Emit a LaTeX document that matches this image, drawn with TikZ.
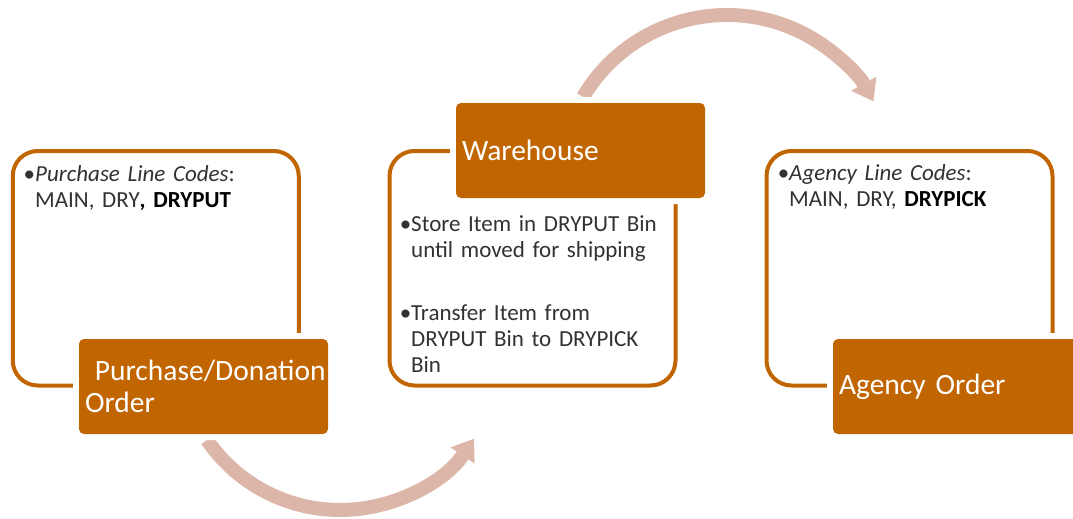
\documentclass[tikz,border=0pt]{standalone}
\usepackage{fontspec}
\setmainfont{Carlito}
\usetikzlibrary{arrows.meta}

\definecolor{rustorange}{RGB}{193,101,0}
\definecolor{flowpink}{RGB}{220,182,168}
\definecolor{bodygray}{RGB}{50,50,50}

\tikzset{
  codebox/.style={draw=rustorange, line width=4pt, rounded corners=25pt, fill=white,
    minimum width=286pt, minimum height=234.5pt, inner sep=0pt},
  stagebox/.style={fill=rustorange, text=white, rounded corners=5pt,
    preaction={draw=white, line width=12pt},
    minimum width=249pt, minimum height=95pt, text width=237pt, inner xsep=6pt,
    align=left, font=\fontsize{29.5}{32}\selectfont},
  notetext/.style={anchor=base west, text width=270pt, inner sep=0pt, align=left,
    text=bodygray, font=\fontsize{23}{26}\selectfont},
  flowarrow/.style={draw=flowpink, line width=14pt,
    -{Triangle[width=29pt, length=20pt, line width=0pt]}}
}

\begin{document}
\begin{tikzpicture}[x=1pt, y=-1pt]
  \useasboundingbox (0,0) rectangle (1073,519);

  % curved flow arrows
  \coordinate (lowhub) at (340,348.6);
  \coordinate (highhub) at (727,182.4);
  \draw[flowarrow] (lowhub) ++(145.5:161.4) arc[start angle=145.5, end angle=34, radius=161.4];
  \draw[flowarrow] (highhub) ++(210.7:167.4) arc[start angle=210.7, end angle=331, radius=167.4];

  % outline boxes
  \node[codebox] (purchcodes) at (155.75,268.25) {};
  \node[codebox] (whsteps) at (532.5,268.25) {};
  \node[codebox] (agencycodes) at (909.5,268.25) {};

  % texts in the outline boxes
  \node[notetext] (purchnote) at (35,181)
    {\llap{\textbullet}\textit{Purchase Line Codes}:\\
     MAIN, DRY\textbf{\color{black}, DRYPUT}};
  \node[notetext] (whstore) at (411,231.7)
    {\llap{\textbullet}Store Item in DRYPUT Bin\\
     until moved for shipping};
  \node[notetext] (whmove) at (411,320)
    {\llap{\textbullet}Transfer Item from\\
     DRYPUT Bin to DRYPICK\\
     Bin};
  \node[notetext] (agencynote) at (789,180.5)
    {\llap{\textbullet}\textit{Agency Line Codes}:\\
     MAIN, DRY, \textbf{\color{black}DRYPICK}};

  % orange stage boxes
  \node[stagebox] (purch) at (203.5,386.5) {\mbox{\ Purchase/Donation}\\Order};
  \node[stagebox] (wh) at (580.5,150.5) {Warehouse};
  \node[stagebox] (agency) at (957.5,386.5) {Agency Order};
\end{tikzpicture}
\end{document}
